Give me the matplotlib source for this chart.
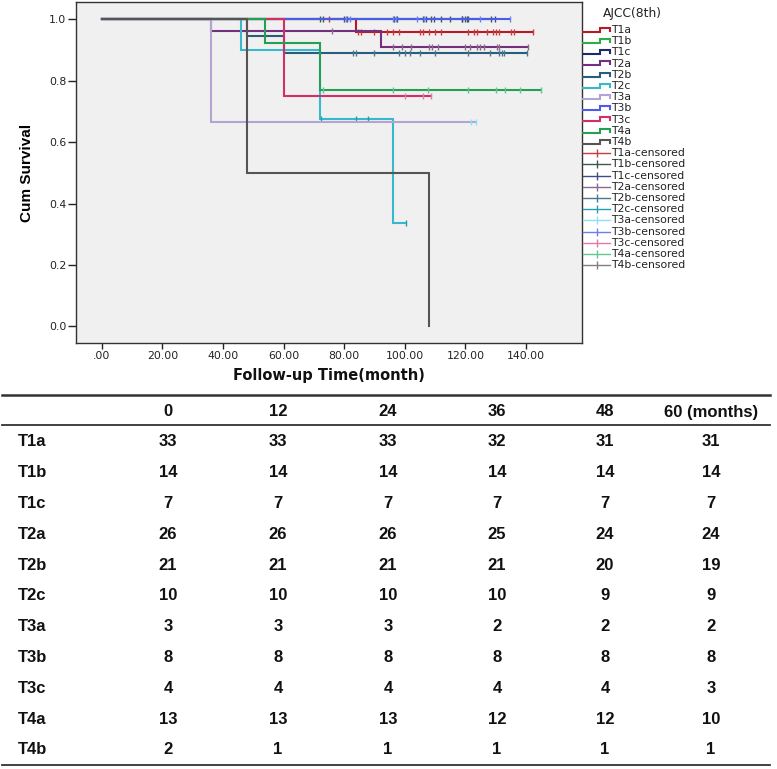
import numpy as np
import matplotlib
matplotlib.use('Agg')
import matplotlib.pyplot as plt

# ---------------- data ----------------
groups = ['T1a', 'T1b', 'T1c', 'T2a', 'T2b', 'T2c', 'T3a', 'T3b', 'T3c', 'T4a', 'T4b']
line_colors = ['#b8182a', '#2cae48', '#1c2a6e', '#74307c', '#285e7c', '#38b8cc',
               '#b4a4d4', '#4a5ce8', '#d23064', '#24a054', '#555555']
cens_colors = ['#c83c3c', '#3c5a50', '#404a88', '#8a6a90', '#4a7890', '#20a0b0',
               '#90e0f0', '#6a80f0', '#e878a8', '#60c890', '#808080']

event_times = {
    'T1a': [84], 'T1b': [], 'T1c': [], 'T2a': [36, 92], 'T2b': [48, 60],
    'T2c': [46, 72, 96], 'T3a': [36], 'T3b': [], 'T3c': [60], 'T4a': [54, 72],
    'T4b': [48, 108],
}
event_surv = {
    'T1a': [0.957], 'T1b': [], 'T1c': [], 'T2a': [0.961, 0.911], 'T2b': [0.946, 0.89],
    'T2c': [0.90, 0.675, 0.3375], 'T3a': [0.667], 'T3b': [], 'T3c': [0.75],
    'T4a': [0.924, 0.771], 'T4b': [0.5, 0.0],
}
end_times = {
    'T1a': 142.3, 'T1b': 128.5, 'T1c': 129.8, 'T2a': 140.8, 'T2b': 140.3, 'T2c': 100.3,
    'T3a': 123.5, 'T3b': 134.7, 'T3c': 108.5, 'T4a': 145.0, 'T4b': 108.0,
}
censor_times = {
    'T1a': [75, 84.5, 85.5, 90, 94, 96, 98, 105, 106, 108, 110, 112, 121, 123, 124,
            127, 129, 130, 131, 135, 136, 142.3],
    'T1b': [72, 73, 81, 96.5, 106, 108.5, 112, 115, 119, 120, 121, 128.5],
    'T1c': [80, 97.5, 107, 109.8, 118.8, 120.5, 129.8],
    'T2a': [76, 96, 99, 102, 108, 109, 111, 120, 121.5, 123.7, 125, 126, 130.4, 131, 140.8],
    'T2b': [83, 84, 90, 98.2, 100, 101.7, 105, 110, 121, 128, 131.2, 132, 132.8, 140.3],
    'T2c': [72.5, 84, 88, 100.3],
    'T3a': [122, 123.5],
    'T3b': [80.5, 82, 96, 97, 104, 106.5, 124.8, 134.7],
    'T3c': [100, 106, 108.5],
    'T4a': [72.9, 96, 107.8, 121, 130, 133, 138, 145],
    'T4b': [],
}

xticks = [0, 20, 40, 60, 80, 100, 120, 140]
xtick_labels = ['.00', '20.00', '40.00', '60.00', '80.00', '100.00', '120.00', '140.00']
yticks = [0.0, 0.2, 0.4, 0.6, 0.8, 1.0]
ytick_labels = ['0.0', '0.2', '0.4', '0.6', '0.8', '1.0']

table_header = ['0', '12', '24', '36', '48', '60 (months)']
at_risk = {
    'T1a': [33, 33, 33, 32, 31, 31],
    'T1b': [14, 14, 14, 14, 14, 14],
    'T1c': [7, 7, 7, 7, 7, 7],
    'T2a': [26, 26, 26, 25, 24, 24],
    'T2b': [21, 21, 21, 21, 20, 19],
    'T2c': [10, 10, 10, 10, 9, 9],
    'T3a': [3, 3, 3, 2, 2, 2],
    'T3b': [8, 8, 8, 8, 8, 8],
    'T3c': [4, 4, 4, 4, 4, 3],
    'T4a': [13, 13, 13, 12, 12, 10],
    'T4b': [2, 1, 1, 1, 1, 1],
}

# ---------------- figure ----------------
W, H = 777, 769
fig = plt.figure(figsize=(W / 100, H / 100), dpi=100)
fig.patch.set_facecolor('white')


def px_rect(l, t, r, b):
    return [l / W, 1 - b / H, (r - l) / W, (b - t) / H]


narrow = ['Liberation Sans Narrow', 'Liberation Sans', 'DejaVu Sans']

ax = fig.add_axes(px_rect(76, 2, 582, 343))
ax.set_facecolor('#f0f0f0')
ax.set_xlim(-8.5, 158.5)
ax.set_ylim(-0.054, 1.056)


def surv_at(g, t):
    et = np.array(event_times[g], dtype=float)
    levels = np.concatenate([[1.0], np.array(event_surv[g], dtype=float)])
    idx = np.searchsorted(et, t, side='right')
    return levels[idx]


for g, lc, cc in zip(groups, line_colors, cens_colors):
    xs = [0] + event_times[g] + [end_times[g]]
    last = event_surv[g][-1] if event_surv[g] else 1.0
    ys = [1.0] + event_surv[g] + [last]
    ax.step(xs, ys, where='post', color=lc, lw=1.5, solid_joinstyle='miter')
    ct = np.array(censor_times[g], dtype=float)
    if len(ct):
        ax.plot(ct, surv_at(g, ct), ls='none', marker='|', ms=5, mew=1.0, color=cc)

ax.set_xticks(xticks, xtick_labels)
ax.set_yticks(yticks, ytick_labels)
ax.tick_params(axis='x', length=4, width=1, pad=2, labelsize=7.8, colors='#222222')
ax.tick_params(axis='y', length=6, width=1, pad=1, labelsize=7.8, colors='#222222')
for s in ax.spines.values():
    s.set_color('#333333')
    s.set_linewidth(1.0)

ax.text(-0.097, 0.5, 'Cum Survival', transform=ax.transAxes, rotation=90,
        ha='center', va='center', fontsize=11, fontweight='bold', family=narrow)
ax.text(0.5, -0.094, 'Follow-up Time(month)', transform=ax.transAxes,
        ha='center', va='center', fontsize=10.5, fontweight='bold', color='#111111')

# ---------------- legend ----------------
lax = fig.add_axes(px_rect(582, 0, 777, 290))
lax.set_xlim(582, 777)
lax.set_ylim(290, 0)
lax.axis('off')
lax.text(603, 14, 'AJCC(8th)', ha='left', va='center', fontsize=8.8, color='#222222')
row = 0
for g, lc in zip(groups, line_colors):
    y = 30 + 11.2 * row
    lax.plot([583, 600, 600, 609.5, 609.5], [y + 1.7, y + 1.7, y - 2.3, y - 2.3, y + 0.7],
             color=lc, lw=1.5, solid_joinstyle='miter')
    lax.text(611.5, y, g, ha='left', va='center', fontsize=7.8, color='#222222')
    row += 1
for g, cc in zip(groups, cens_colors):
    y = 30 + 11.2 * row
    lax.plot([583, 610], [y, y], color=cc, lw=1.0)
    lax.plot([596.5], [y], marker='|', ms=6, mew=1.0, color=cc)
    lax.text(611.5, y, g + '-censored', ha='left', va='center', fontsize=7.8, color='#222222')
    row += 1

# ---------------- table ----------------
tax = fig.add_axes(px_rect(0, 390, 777, 769))
tax.set_xlim(0, 777)
tax.set_ylim(769, 390)
tax.axis('off')
col_x = [168, 278, 388, 497, 605, 711]
tax.plot([2, 770], [395, 395], color='#333333', lw=1.8)
tax.plot([2, 770], [425, 425], color='#333333', lw=1.3)
tax.plot([2, 770], [765, 765], color='#333333', lw=1.3)
for cx, h in zip(col_x, table_header):
    tax.text(cx, 412, h, ha='center', va='center', fontsize=12, fontweight='bold',
             family=narrow, color='#111111')
for i, g in enumerate(groups):
    y = 442 + 30.8 * i
    tax.text(18, y, g, ha='left', va='center', fontsize=12, fontweight='bold',
             family=narrow, color='#111111')
    for cx, v in zip(col_x, at_risk[g]):
        tax.text(cx, y, str(v), ha='center', va='center', fontsize=12, fontweight='bold',
                 family=narrow, color='#111111')

fig.savefig('out.png', dpi=100)
